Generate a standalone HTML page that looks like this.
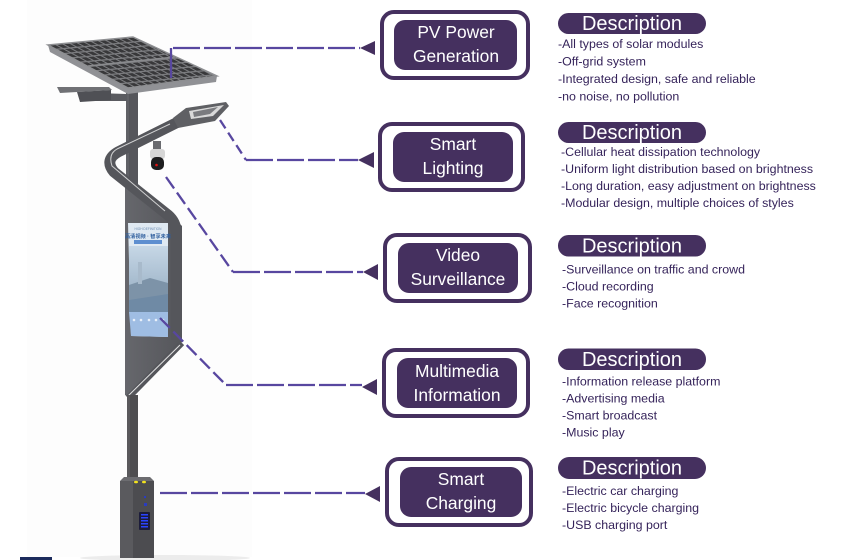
<!DOCTYPE html>
<html><head><meta charset="utf-8"><style>
html,body{margin:0;padding:0;background:#fff;}
body{width:864px;height:560px;overflow:hidden;}
svg{display:block;}
text{font-family:"Liberation Sans",Arial,"Noto Sans CJK SC",sans-serif;}
</style></head><body>
<svg width="864" height="560" viewBox="0 0 864 560" xmlns="http://www.w3.org/2000/svg">
<defs>
<pattern id="cells" patternUnits="userSpaceOnUse" width="8.33" height="10" patternTransform="matrix(0.85 -0.08 0.8 0.43 48 45)">
<rect width="8.33" height="10" fill="#7a7b7e"/>
<rect x="1.1" y="1.3" width="6.1" height="7.4" fill="#38383a"/>
</pattern>
<linearGradient id="sky" x1="0" y1="0" x2="0" y2="1">
<stop offset="0" stop-color="#c6d7e6"/><stop offset="1" stop-color="#8ea6bc"/>
</linearGradient>
<linearGradient id="panelg" x1="0" y1="0" x2="1" y2="0">
<stop offset="0" stop-color="#66676c"/><stop offset="1" stop-color="#55565b"/>
</linearGradient>
</defs>

<!-- faint backdrop -->
<rect x="27" y="0" width="225" height="557" fill="#fdfdfd"/>
<ellipse cx="165" cy="558" rx="85" ry="3" fill="#ececec"/>
<rect x="20" y="557" width="32" height="3" fill="#1c2b5c"/>

<!-- upper pole -->
<rect x="126" y="86" width="12" height="110" fill="#55565b"/>
<rect x="126" y="86" width="3" height="110" fill="#606166"/>

<!-- left lamp -->
<polygon points="95,93 127,94 127,101 95,101" fill="#5a5b60"/>
<polygon points="57,87 109,87 112,90 60,93" fill="#707175"/>
<polygon points="77,92 111,90 111,100 80,102" fill="#4f5055"/>

<!-- solar panel -->
<polygon points="48,45 128,88 217,76 216,82 128,94 50,52" fill="#909195"/>
<polygon points="48,45 133,37 217,76 128,88" fill="url(#cells)"/>
<polygon points="48,45 133,37 217,76 128,88" fill="none" stroke="#8e8f92" stroke-width="1.5"/>
<line x1="88" y1="66" x2="175" y2="57" stroke="#8a8b8e" stroke-width="1.6"/>

<!-- big panel body -->
<polygon points="125,176 168,212 182,226 182,342 130,398 125,395" fill="url(#panelg)"/>

<!-- bent arm band -->
<path d="M180 121 L118 152 Q104 160 114 172 L168 215 Q176 222 176 232 L176 340" fill="none" stroke="#55565b" stroke-width="11" stroke-linejoin="round"/>
<path d="M170 124 L117 149 Q108 154 112 166 L165 211" fill="none" stroke="#e8e8e8" stroke-width="1" opacity="0.85"/>
<path d="M182 343 L128 398" fill="none" stroke="#55565b" stroke-width="6"/>
<path d="M180 345 L127 397" fill="none" stroke="#f2f2f2" stroke-width="1" opacity="0.9"/>

<!-- right lamp head -->
<polygon points="173,118 186,108 226,102 229,106 215,121 178,128" fill="#5f6064"/>
<polygon points="189,111 224,105 213,116 191,119" fill="#d9d9d9"/>
<polygon points="193,112 218,107 210,114 194,117" fill="#7a7b7f"/>

<!-- camera -->
<rect x="153" y="141" width="8" height="9" fill="#6a6b6f"/>
<rect x="150" y="149" width="15" height="10" rx="3" fill="#d6d6d6"/>
<rect x="151" y="157" width="13" height="13" rx="5" fill="#1d1d1f"/>
<circle cx="156.5" cy="165" r="1.3" fill="#e01010"/>

<!-- screen -->
<polygon points="128,223 168,223 168,337 131,336" fill="#dfe9f2"/>
<text x="148" y="230" font-size="3.2" fill="#6a8ab0" text-anchor="middle">HIGH DEFINITION</text>
<text x="148" y="238" font-size="5.2" fill="#2f5f9e" text-anchor="middle" font-weight="bold">高清视频 · 智享未来</text>
<rect x="134" y="240" width="28" height="4" fill="#5d8ed0"/>
<rect x="129" y="246" width="39" height="66" fill="url(#sky)"/>
<polygon points="129,285 150,278 168,283 168,312 129,312" fill="#7d93a8"/>
<rect x="138" y="262" width="4" height="22" fill="#a8bacb"/>
<polygon points="129,300 168,294 168,312 129,312" fill="#6f8aa5"/>
<polygon points="129,312 168,312 168,337 131,336" fill="#9fbde3"/>
<g fill="#e8f0fa">
<circle cx="134" cy="320" r="1.3"/><circle cx="141" cy="320" r="1.3"/><circle cx="149" cy="320" r="1.3"/><circle cx="156" cy="320" r="1.3"/><circle cx="163" cy="320" r="1.3"/>
</g>

<!-- lower pole -->
<rect x="127" y="395" width="11" height="85" fill="#4e4d50"/>
<rect x="127" y="395" width="3" height="85" fill="#5a595c"/>

<!-- charging box -->
<polygon points="120,481 124,477 150,477 154,481" fill="#6c6c70"/>
<rect x="120" y="481" width="13" height="77" fill="#5a5a5e"/>
<rect x="133" y="481" width="21" height="77" fill="#4c4c50"/>
<ellipse cx="136" cy="482" rx="2" ry="1.3" fill="#f2e21e"/>
<ellipse cx="144" cy="482" rx="2" ry="1.3" fill="#f2e21e"/>
<rect x="144" y="496" width="2" height="2" fill="#2a3cc0"/>
<rect x="144" y="503" width="3" height="3" fill="#2a3cc0"/>
<rect x="139" y="512" width="11" height="18" rx="1" fill="#1c1c3a"/>
<g fill="#2b44ff">
<rect x="141" y="514" width="7" height="1.5"/><rect x="141" y="517" width="7" height="1.5"/><rect x="141" y="520" width="7" height="1.5"/><rect x="141" y="523" width="7" height="1.5"/><rect x="141" y="526" width="7" height="1.5"/>
</g>

<!-- connectors -->
<g fill="none" stroke="#5847a0" stroke-width="2.3">
<path d="M171 78 L171 48"/>
<path d="M173 48 L360 48" stroke-dasharray="27 4"/>
<path d="M220 120 L246 160" stroke-dasharray="10 5"/>
<path d="M246 160 L358 160" stroke-dasharray="27 4"/>
<path d="M166 177 L233 272" stroke-dasharray="14 5"/>
<path d="M233 272 L363 272" stroke-dasharray="27 4"/>
<path d="M160 318 L226 385" stroke-dasharray="14 5"/>
<path d="M226 385 L362 385" stroke-dasharray="27 4"/>
<path d="M160 493 L365 493" stroke-dasharray="27 4"/>
</g>
<g fill="#45305f">
<polygon points="360,48 375,41 375,55"/>
<polygon points="358,160 374,152 374,168"/>
<polygon points="363,272 378,264 378,280"/>
<polygon points="362,387 377,379 377,395"/>
<polygon points="365,494 380,486 380,502"/>
</g>

<!-- feature boxes -->
<g fill="none" stroke="#45305f" stroke-width="4">
<rect x="382" y="12" width="146" height="66" rx="12"/>
<rect x="380" y="124" width="143" height="66" rx="12"/>
<rect x="385" y="235" width="145" height="66" rx="12"/>
<rect x="384" y="350" width="144" height="66" rx="12"/>
<rect x="387" y="459" width="144" height="66" rx="12"/>
</g>
<g fill="#45305f">
<rect x="394" y="20" width="123" height="50" rx="11"/>
<rect x="393" y="132" width="120" height="50" rx="11"/>
<rect x="398" y="243" width="120" height="50" rx="11"/>
<rect x="397" y="358" width="120" height="50" rx="11"/>
<rect x="400" y="467" width="122" height="50" rx="11"/>
</g>
<g fill="#ffffff" font-size="17.4" text-anchor="middle">
<text x="456" y="38">PV Power</text><text x="456" y="62">Generation</text>
<text x="453" y="150">Smart</text><text x="453" y="174">Lighting</text>
<text x="458" y="261">Video</text><text x="458" y="285">Surveillance</text>
<text x="457" y="377">Multimedia</text><text x="457" y="401">Information</text>
<text x="461" y="485">Smart</text><text x="461" y="509">Charging</text>
</g>

<!-- description pills -->
<g fill="#45305f">
<rect x="558" y="13" width="148" height="21" rx="10.5"/>
<rect x="558" y="122" width="148" height="21" rx="10.5"/>
<rect x="558" y="235" width="148" height="21.5" rx="10.5"/>
<rect x="558" y="348.5" width="148" height="21.5" rx="10.5"/>
<rect x="558" y="457" width="148" height="22" rx="11"/>
</g>
<g fill="#ffffff" font-size="20" text-anchor="middle">
<text x="632" y="30">Description</text>
<text x="632" y="139">Description</text>
<text x="632" y="252.5">Description</text>
<text x="632" y="366">Description</text>
<text x="632" y="474.5">Description</text>
</g>
<g fill="#35235a" font-size="12.4">
<text x="558" y="48">-All types of solar modules</text>
<text x="558" y="65.5">-Off-grid system</text>
<text x="558" y="83">-Integrated design, safe and reliable</text>
<text x="558" y="100.5">-no noise, no pollution</text>
<text x="561" y="156">-Cellular heat dissipation technology</text>
<text x="561" y="173">-Uniform light distribution based on brightness</text>
<text x="561" y="190">-Long duration, easy adjustment on brightness</text>
<text x="561" y="207">-Modular design, multiple choices of styles</text>
<text x="562" y="273.5">-Surveillance on traffic and crowd</text>
<text x="562" y="290.5">-Cloud recording</text>
<text x="562" y="307.5">-Face recognition</text>
<text x="562" y="385.5">-Information release platform</text>
<text x="562" y="402.5">-Advertising media</text>
<text x="562" y="419.5">-Smart broadcast</text>
<text x="562" y="436.5">-Music play</text>
<text x="562" y="495">-Electric car charging</text>
<text x="562" y="512">-Electric bicycle charging</text>
<text x="562" y="529">-USB charging port</text>
</g>
</svg>
</body></html>
